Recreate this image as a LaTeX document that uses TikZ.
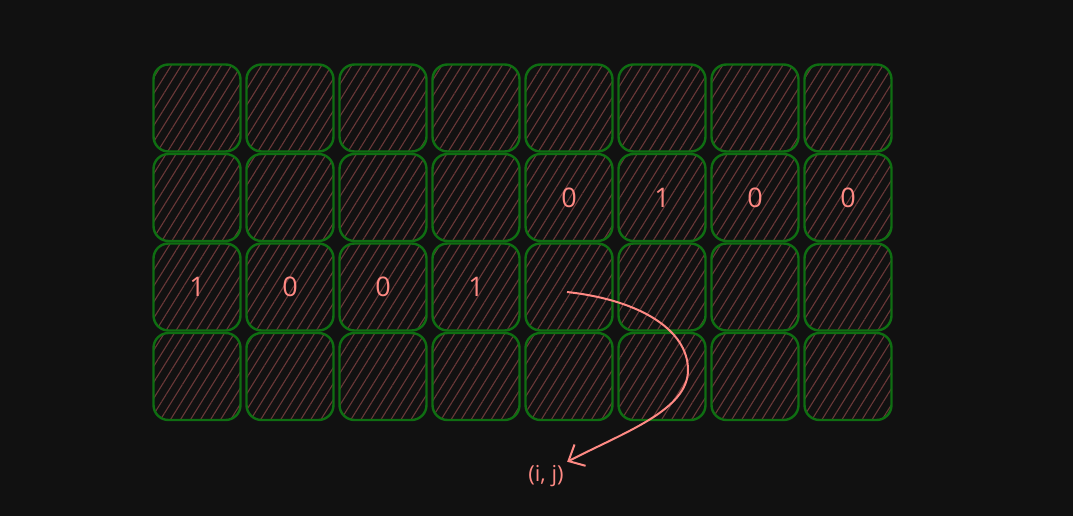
\documentclass[tikz,border=0pt]{standalone}
\usepackage{fontspec}
\setsansfont{Open Sans}
\usetikzlibrary{patterns.meta,arrows.meta}

\definecolor{bgdark}{HTML}{111111}
\definecolor{gridgreen}{HTML}{0F6E12}
\definecolor{hatchred}{HTML}{6A3838}
\definecolor{bitpink}{HTML}{FF8A84}

\tikzset{
	cellbox/.style={rectangle, rounded corners=15pt, minimum size=87pt, draw=gridgreen, line width=2.4pt,
		pattern={Lines[angle=58, distance=8.5pt, line width=1.1pt]}, pattern color=hatchred,
		text=bitpink, font=\sffamily\fontsize{27}{30}\selectfont},
	pointer/.style={draw=bitpink, line width=2pt, -{Straight Barb[length=13pt, width=24pt, line width=2pt]}}
}

\begin{document}
\begin{tikzpicture}[x=1pt, y=-1pt]
		
		% Background
		\fill[bgdark] (0,0) rectangle (1073,516);
		\useasboundingbox (0,0) rectangle (1073,516);
		
		% Grid of cells
		\foreach \r in {0,...,3} {
			\foreach \c in {0,...,7} {
				\node[cellbox] (cell-\r-\c) at (197+93*\c, 108+89.5*\r) {};
			}
		}
		
		% Bits
		\foreach \c/\b in {4/0, 5/1, 6/0, 7/0} {
			\node[text=bitpink, font=\sffamily\fontsize{27}{30}\selectfont] at (cell-1-\c) {\b};
		}
		\foreach \c/\b in {0/1, 1/0, 2/0, 3/1} {
			\node[text=bitpink, font=\sffamily\fontsize{27}{30}\selectfont] at (cell-2-\c) {\b};
		}
		
		% Index label
		\coordinate (start) at (567, 292);
		\node[text=bitpink, font=\sffamily\fontsize{22}{26}\selectfont] (ij) at (546, 476) {(i, j)};
		% Connect
		\draw[pointer] (start) .. controls (640, 300) and (688, 330) .. (688, 370)
			.. controls (688, 410) and (625, 432) .. (ij.north east);
		
	\end{tikzpicture}
\end{document}
